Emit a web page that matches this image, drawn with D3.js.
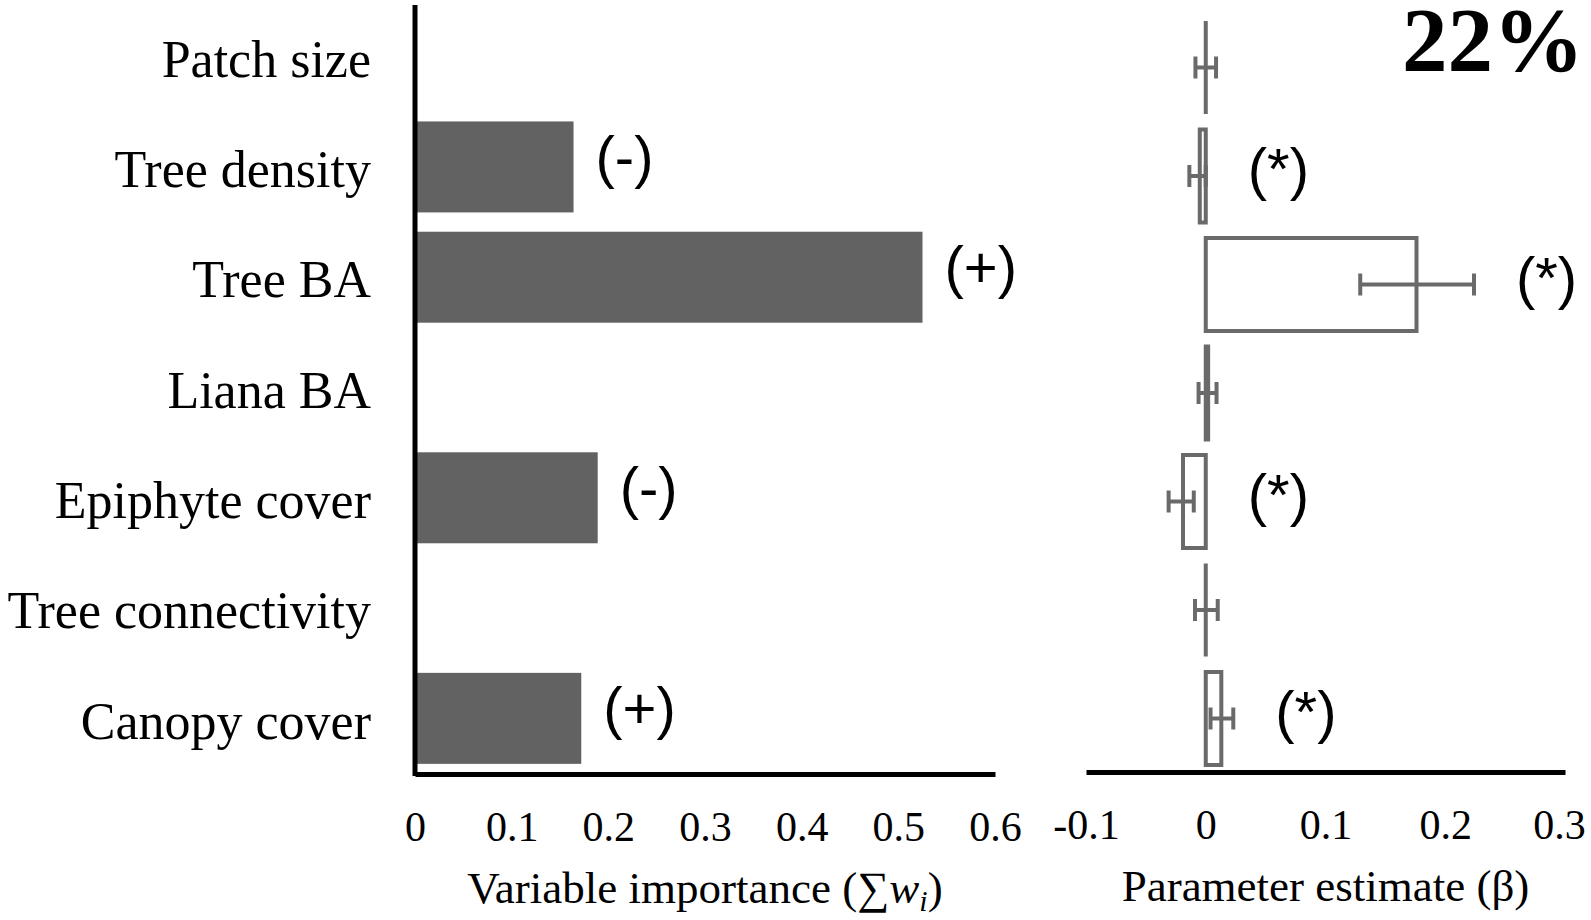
<!DOCTYPE html>
<html lang="en">
<head>
    <meta charset="utf-8">
    <script src="https://cdnjs.cloudflare.com/ajax/libs/d3/7.8.5/d3.min.js"></script>
    <style>
        body { margin: 0; background: #fff; }
        svg { display: block; }
        .serif { font-family: 'Liberation Serif', 'Times New Roman', 'DejaVu Serif', serif; fill: #000; }
        .sign { font-family: 'Liberation Sans', Arial, sans-serif; font-size: 58px; fill: #000; }
    </style>
</head>
<body>
<svg></svg>
<script>
    // data
    const categories = ['Patch size', 'Tree density', 'Tree BA', 'Liana BA',
        'Epiphyte cover', 'Tree connectivity', 'Canopy cover']
    const importance = [0, 0.164, 0.525, 0, 0.189, 0, 0.172]
    const importanceSign = ['', '(-)', '(+)', '', '(-)', '', '(+)']
    const estimate = [0.0, -0.005, 0.176, 0.002, -0.019, 0.0, 0.013]
    const estimateLow = [-0.0086, -0.0137, 0.129, -0.006, -0.031, -0.009, 0.004]
    const estimateHigh = [0.0086, 0.0, 0.224, 0.009, -0.010, 0.010, 0.023]
    const estimateSig = ['', '(*)', '(*)', '', '(*)', '', '(*)']
    const leftTicks = [0, 0.1, 0.2, 0.3, 0.4, 0.5, 0.6]
    const leftTickLabels = ['0', '0.1', '0.2', '0.3', '0.4', '0.5', '0.6']
    const rightTicks = [-0.1, 0, 0.1, 0.2, 0.3]
    const rightTickLabels = ['-0.1', '0', '0.1', '0.2', '0.3']
    const explained = '22%'

    const w = 1591, h = 920
    const svg = d3.select('svg').attr('width', w).attr('height', h)

    const rows = categories.map((c, i) => ({
        name: c, imp: importance[i], sign: importanceSign[i],
        est: estimate[i], lo: estimateLow[i], hi: estimateHigh[i], sig: estimateSig[i]
    }))

    // ---- left panel: variable importance
    const xL = d3.scaleLinear().domain([0, 0.6]).range([415, 995])
    const yL = d3.scaleBand().domain(categories).range([1.5, 773.5])
        .paddingInner(0.175).paddingOuter(0.0875)

    svg.selectAll('.impbar')
        .data(rows.filter(d => d.imp > 0))
        .enter().append('rect')
        .attr('class', 'impbar')
        .attr('x', xL(0))
        .attr('y', d => yL(d.name))
        .attr('width', d => xL(d.imp) - xL(0))
        .attr('height', yL.bandwidth())
        .attr('fill', '#626262')

    svg.selectAll('.impsign')
        .data(rows.filter(d => d.sign))
        .enter().append('text')
        .attr('class', 'sign')
        .attr('x', d => xL(d.imp) + 22)
        .attr('y', d => yL(d.name) + yL.bandwidth() / 2 + 10)
        .text(d => d.sign)

    const yAxisL = svg.append('g')
        .attr('transform', 'translate(' + xL(0) + ',0)')
        .call(d3.axisLeft(yL).tickSize(0).tickPadding(44))
    yAxisL.select('.domain').attr('d', 'M0,5V776').attr('stroke', '#000').attr('stroke-width', 5)
    yAxisL.selectAll('text').attr('class', 'serif').attr('font-size', 52).attr('dy', '0.39em')
    yAxisL.attr('font-family', null).attr('font-size', null)

    const xAxisL = svg.append('g')
        .attr('transform', 'translate(0,774)')
        .call(d3.axisBottom(xL).tickValues(leftTicks)
            .tickFormat((d, i) => leftTickLabels[i]).tickSize(0).tickPadding(37))
    xAxisL.select('.domain').attr('stroke', '#000').attr('stroke-width', 5)
    xAxisL.selectAll('text').attr('class', 'serif').attr('font-size', 42)
    xAxisL.attr('font-family', null).attr('font-size', null)

    const titleL = svg.append('text').attr('class', 'serif')
        .attr('x', (xL.range()[0] + xL.range()[1]) / 2).attr('y', 903)
        .attr('text-anchor', 'middle').attr('font-size', 45)
    titleL.append('tspan').text('Variable importance (\u2211')
    titleL.append('tspan').attr('font-style', 'italic').text('w')
    titleL.append('tspan').attr('font-style', 'italic').attr('font-size', 30)
        .attr('dy', 8).text('i')
    titleL.append('tspan').attr('dy', -8).text(')')

    // ---- right panel: parameter estimates
    const xR = d3.scaleLinear().domain([-0.1, 0.3]).range([1086, 1565])
    const yR = d3.scaleBand().domain(categories).range([13.25, 772.75])
        .paddingInner(0.143).paddingOuter(0.0715)
    const grey = '#6a6a6a'

    // drawn as paths so that near-zero estimates still show as a line
    svg.selectAll('.estbar')
        .data(rows)
        .enter().append('path')
        .attr('class', 'estbar')
        .attr('d', d => {
            const x0 = Math.min(xR(0), xR(d.est)), bw = Math.abs(xR(d.est) - xR(0))
            return 'M' + x0 + ',' + yR(d.name) + 'h' + bw + 'v' + yR.bandwidth() +
                'h' + (-bw) + 'Z'
        })
        .attr('fill', '#fff')
        .attr('stroke', grey)
        .attr('stroke-width', 4)

    const err = svg.selectAll('.err')
        .data(rows)
        .enter().append('g')
        .attr('class', 'err')
        .attr('transform', d => 'translate(0,' + (yR(d.name) + yR.bandwidth() / 2) + ')')
        .attr('stroke', grey).attr('stroke-width', 4)
    err.append('line')
        .attr('x1', d => xR(d.lo)).attr('x2', d => xR(d.hi))
    err.append('line')
        .attr('x1', d => xR(d.lo)).attr('x2', d => xR(d.lo)).attr('y1', -11).attr('y2', 11)
    err.append('line')
        .attr('x1', d => xR(d.hi)).attr('x2', d => xR(d.hi)).attr('y1', -11).attr('y2', 11)

    svg.selectAll('.estsig')
        .data(rows.filter(d => d.sig))
        .enter().append('text')
        .attr('class', 'sign')
        .attr('x', d => xR(Math.max(0, d.est, d.hi)) + 42)
        .attr('y', d => yR(d.name) + yR.bandwidth() / 2 + 13)
        .text(d => d.sig)

    const xAxisR = svg.append('g')
        .attr('transform', 'translate(0,772)')
        .call(d3.axisBottom(xR).tickValues(rightTicks)
            .tickFormat((d, i) => rightTickLabels[i]).tickSize(0).tickPadding(37))
    xAxisR.select('.domain').attr('stroke', '#000').attr('stroke-width', 5)
    xAxisR.selectAll('text').attr('class', 'serif').attr('font-size', 42)
    // last label sits against the page edge, as in the original
    xAxisR.selectAll('.tick').filter(d => d === 0.3).select('text').attr('dx', -6)
    xAxisR.attr('font-family', null).attr('font-size', null)

    svg.append('text').attr('class', 'serif')
        .attr('x', (xR.range()[0] + xR.range()[1]) / 2).attr('y', 901)
        .attr('text-anchor', 'middle').attr('font-size', 45)
        .text('Parameter estimate (\u03b2)')

    svg.append('text').attr('class', 'serif')
        .attr('x', 1584).attr('y', 71)
        .attr('text-anchor', 'end').attr('font-size', 91).attr('font-weight', 'bold')
        .text(explained)
</script>
</body>
</html>
